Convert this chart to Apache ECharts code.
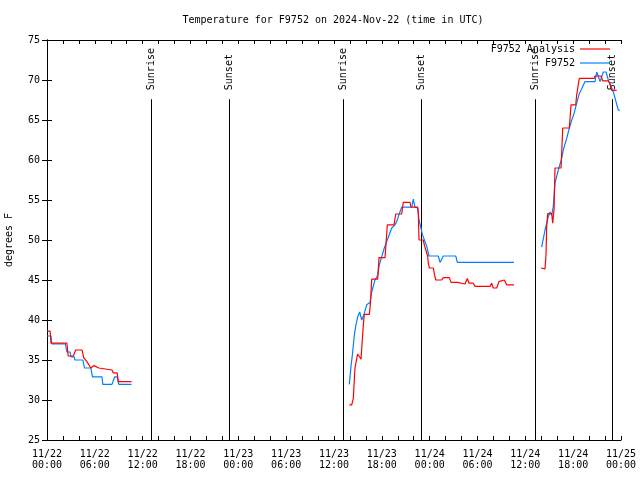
<!DOCTYPE html>
<html>
<head>
<meta charset="utf-8">
<script src="https://cdn.jsdelivr.net/npm/echarts@6/dist/echarts.min.js"></script>
<style>html,body{margin:0;padding:0;background:#fff}#c{width:640px;height:480px}</style>
</head>
<body>
<div id="c"></div>
<script>
// Hours since 2024-11-22 00:00 UTC; null = gap in data
const analysisHours = [0.0,0.4,0.5,2.5,2.65,3.3,3.6,4.4,4.6,5.0,5.5,5.75,5.9,6.5,6.6,8.15,8.3,8.8,8.95,10.6,
  24,
  37.92,38.22,38.42,38.63,38.85,38.97,39.22,39.39,39.48,39.68,39.80,40.43,40.56,40.73,41.48,41.65,42.40,42.69,43.53,43.74,44.49,44.69,45.53,45.66,46.50,46.58,46.66,47.20,47.33,47.50,47.75,47.83,47.96,48.46,48.58,48.76,49.51,49.71,50.46,50.68,51.52,51.68,52.43,52.72,52.94,53.47,53.69,55.57,55.78,55.98,56.41,56.70,57.36,57.66,58.58,
  60,
  61.97,62.47,62.59,62.68,62.81,63.31,63.43,63.60,63.72,64.48,64.69,65.52,65.73,66.32,66.44,66.77,68.65,68.74,69.49,69.70,70.41,70.62,70.83,71.46];
const analysisTemps = [38.6,38.6,37.1,37.1,35.5,35.5,36.25,36.25,35.3,34.8,34.0,33.9,34.3,34.0,33.75,33.75,33.4,33.4,32.3,32.3,
  null,
  29.4,29.4,30.2,34.0,35.2,35.75,35.75,35.1,36.5,39.4,40.7,40.7,41.9,45.1,45.1,47.8,47.8,51.9,51.9,53.25,53.25,54.7,54.7,54.1,54.1,53.3,50.0,50.0,49.4,48.8,48.0,47.1,46.5,46.5,45.8,45.0,45.0,45.3,45.3,44.7,44.7,44.5,44.5,45.2,44.6,44.6,44.2,44.2,44.6,44.0,44.0,44.8,45.0,44.4,44.4,
  null,
  46.5,46.4,48.1,51.7,53.3,53.3,52.1,53.75,59.0,59.0,64.0,64.0,66.9,66.9,68.1,70.2,70.2,70.5,70.5,69.9,69.9,69.5,68.7,68.7];

const obsHours = [0.0,0.5,0.6,2.3,2.5,2.9,3.0,3.4,3.5,4.5,4.7,5.5,5.7,6.9,7.0,8.15,8.5,8.8,9.0,10.6,
  24,
  37.92,38.13,38.30,38.55,38.72,38.97,39.22,39.48,39.73,40.10,40.52,40.73,41.14,41.48,41.68,41.98,42.31,42.61,42.90,43.24,43.57,43.87,44.19,44.49,45.75,45.95,46.16,46.50,46.66,46.91,47.08,47.42,47.63,47.92,49.08,49.30,49.51,49.71,51.27,51.47,58.58,
  60,
  62.05,62.26,62.47,62.68,62.88,63.10,63.31,63.51,63.72,64.14,64.56,64.76,65.19,65.52,65.82,66.11,66.44,66.77,67.07,67.49,68.74,68.95,69.15,69.37,69.78,70.12,70.41,70.62,71.04,71.37,71.66,71.88];
const obsTemps = [38.0,38.0,37.0,37.0,36.0,36.0,35.4,35.4,35.0,35.0,34.0,34.0,32.9,32.9,31.95,31.95,32.9,32.9,31.95,31.95,
  null,
  31.95,34.2,35.6,38.1,39.2,40.4,41.0,40.0,40.6,41.9,42.2,43.5,45.0,45.6,46.9,47.9,49.0,49.8,50.6,51.5,51.8,52.3,53.3,54.1,54.1,55.1,54.1,54.0,52.5,51.5,50.7,49.8,49.2,48.0,48.0,47.2,47.2,48.0,48.0,47.2,47.2,
  null,
  49.1,49.1,51.25,52.1,52.9,53.5,53.1,54.2,57.1,58.75,60.2,61.25,62.7,64.0,65.0,65.8,67.1,68.3,68.9,69.8,69.8,71.0,70.5,69.8,71.0,71.0,70.0,69.5,68.5,67.3,66.25,66.2];

const sunEventHours = [13.05, 22.83, 37.13, 46.91, 61.21, 70.87];
const sunEventLabels = ['Sunrise','Sunset','Sunrise','Sunset','Sunrise','Sunset'];
const dayLabels = ['11/22','11/23','11/24','11/25'];

const FONT = 'DejaVu Sans Mono';
function zip(xs, ys){ return xs.map((x,i)=>[x, ys[i] === null ? '-' : ys[i]]); }

const chart = echarts.init(document.getElementById('c'), null, {renderer:'canvas'});
const xCommon = {type:'value', min:0, max:72, interval:2,
  axisLine:{show:true, lineStyle:{color:'#000', width:1}},
  axisTick:{show:true, inside:true, length:4, lineStyle:{color:'#000'}},
  splitLine:{show:false}};
const yCommon = {type:'value', min:25, max:75, interval:5,
  axisLine:{show:true, lineStyle:{color:'#000', width:1}},
  axisTick:{show:true, inside:true, length:5, lineStyle:{color:'#000'}},
  splitLine:{show:false}};
const markTop = 67.6;
const legendCommon = {right:30, padding:0, align:'right', icon:'rect', itemWidth:30, itemHeight:1.2,
  textStyle:{fontFamily:FONT, fontSize:10, color:'#000'}};

chart.setOption({
  animation:false,
  backgroundColor:'#fff',
  textStyle:{fontFamily:FONT},
  title:{text:'Temperature for F9752 on 2024-Nov-22 (time in UTC)', left:333, textAlign:'center', top:15, padding:0,
    textStyle:{fontFamily:FONT, fontSize:10, fontWeight:'normal', color:'#000'}},
  grid:{left:47, right:19, top:40, bottom:40, containLabel:false, outerBoundsMode:'none'},
  legend:[
    Object.assign({data:['F9752 Analysis'], top:44}, legendCommon),
    Object.assign({data:['F9752'], top:58}, legendCommon)
  ],
  xAxis:[
    Object.assign({}, xCommon, {position:'bottom',
      axisLabel:{color:'#000', fontFamily:FONT, fontSize:10, margin:9, lineHeight:11,
        formatter:function(v){ if (v % 6 !== 0) return ''; const d = Math.floor(v/24); const hh = v % 24; return dayLabels[d] + '\n' + (hh<10?'0':'') + hh + ':00'; }}}),
    Object.assign({}, xCommon, {position:'top', axisLabel:{show:false}})
  ],
  yAxis:[
    Object.assign({}, yCommon, {position:'left', name:'degrees F', nameLocation:'middle', nameGap:33,
      nameTextStyle:{fontFamily:FONT, fontSize:10, color:'#000'},
      axisLabel:{color:'#000', fontFamily:FONT, fontSize:10, margin:7}}),
    Object.assign({}, yCommon, {position:'right', axisLabel:{show:false}})
  ],
  series:[
    {type:'custom', name:'sun', coordinateSystem:'cartesian2d', silent:true, z:1,
      data: sunEventHours.map((h,i)=>[h, i]),
      renderItem:function(params, api){
        const h = api.value(0); const i = api.value(1);
        const top = api.coord([h, markTop]); const bot = api.coord([h, 25]);
        return {type:'group', children:[
          {type:'line', shape:{x1:Math.round(top[0])+0.5, y1:top[1], x2:Math.round(top[0])+0.5, y2:bot[1]}, style:{stroke:'#000', lineWidth:1}},
          {type:'text', x:Math.round(top[0])+0.5, y:top[1]-9, rotation:Math.PI/2,
            style:{text:sunEventLabels[i], fill:'#000', font:'10px "DejaVu Sans Mono"', align:'left', verticalAlign:'middle'}}
        ]};
      }},
    {type:'line', name:'F9752 Analysis', data:zip(analysisHours, analysisTemps), symbol:'none', connectNulls:false,
      lineStyle:{color:'#ff0000', width:1.2}, itemStyle:{color:'#ff0000'}, z:3},
    {type:'line', name:'F9752', data:zip(obsHours, obsTemps), symbol:'none', connectNulls:false,
      lineStyle:{color:'#0080ff', width:1.2}, itemStyle:{color:'#0080ff'}, z:2}
  ]
});
</script>
</body>
</html>
